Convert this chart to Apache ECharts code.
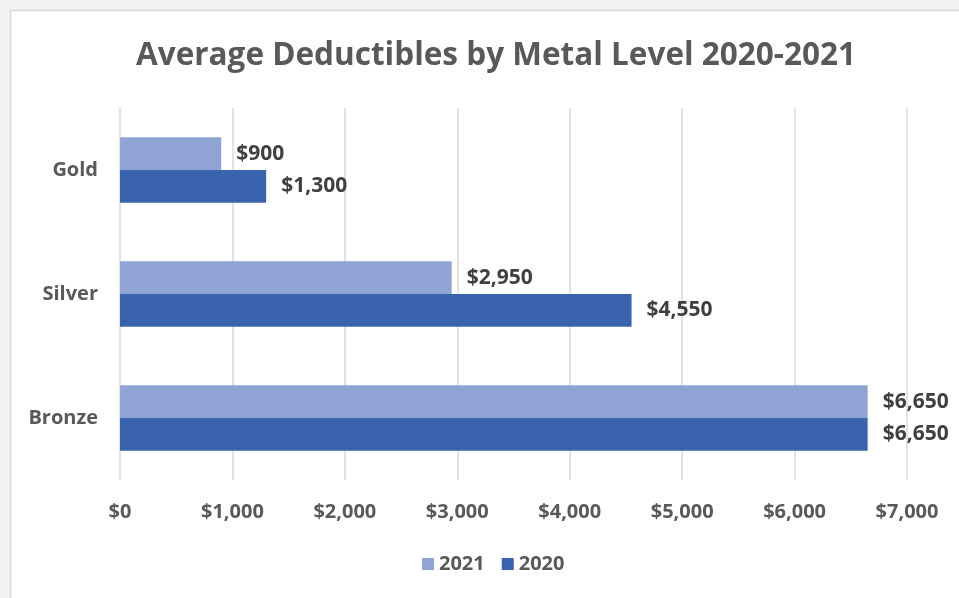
<!DOCTYPE html>
<html>
<head>
<meta charset="UTF-8">
<title>Average Deductibles by Metal Level 2020-2021</title>
<script src="https://cdn.jsdelivr.net/npm/echarts@6/dist/echarts.min.js"></script>
<style>
  html, body { margin: 0; padding: 0; background: #fff; }
  #main { width: 959px; height: 598px; }
</style>
</head>
<body>
<div id="main"></div>
<script type="text/javascript">
// data
var categories = ['Gold', 'Silver', 'Bronze'];
var values2021 = [900, 2950, 6650];
var values2020 = [1300, 4550, 6650];
var seriesNames = ['2021', '2020'];

function money(v) {
  return '$' + Number(v).toLocaleString('en-US');
}

var myChart = echarts.init(document.getElementById('main'));
var font = '"Open Sans", "Liberation Sans", sans-serif';

var option = {
  backgroundColor: '#ffffff',
  textStyle: { fontFamily: font },
  graphic: [
    { type: 'rect', shape: { x: 0, y: 0, width: 959, height: 10 }, style: { fill: '#f2f2f2' }, silent: true },
    { type: 'rect', shape: { x: 0, y: 0, width: 10, height: 598 }, style: { fill: '#f2f2f2' }, silent: true },
    { type: 'rect', shape: { x: 10.5, y: 10.5, width: 960, height: 600 }, style: { fill: 'none', stroke: '#d9d9d9', lineWidth: 1.5 }, silent: true }
  ],
  title: {
    text: 'Average Deductibles by Metal Level 2020-2021',
    left: 491,
    textAlign: 'center',
    top: 35,
    textStyle: { fontFamily: font, fontSize: 31.5, fontWeight: 'bold', color: '#595959' }
  },
  legend: {
    data: seriesNames,
    bottom: 19,
    left: 417,
    itemWidth: 12,
    itemHeight: 12,
    itemGap: 17,
    icon: 'rect',
    textStyle: { fontFamily: font, fontSize: 20, color: '#595959', fontWeight: 'bold' }
  },
  grid: { left: 120, right: 52, top: 108, bottom: 118, containLabel: false },
  xAxis: {
    type: 'value',
    min: 0,
    max: 7000,
    interval: 1000,
    axisLine: { show: false },
    axisTick: { show: false },
    splitLine: { lineStyle: { color: '#d9d9d9', width: 1.5 } },
    axisLabel: {
      margin: 22,
      fontFamily: font,
      fontSize: 20,
      fontWeight: 'bold',
      color: '#595959',
      formatter: money
    }
  },
  yAxis: {
    type: 'category',
    data: categories,
    inverse: true,
    axisLine: { show: false },
    axisTick: { show: false },
    axisLabel: {
      margin: 22,
      fontFamily: font,
      fontSize: 20,
      fontWeight: 'bold',
      color: '#595959'
    }
  },
  series: [
    {
      name: seriesNames[0],
      type: 'bar',
      data: values2021,
      barGap: '0%',
      barCategoryGap: '47%',
      itemStyle: { color: '#8fa3d5' },
      label: {
        show: true, position: 'right', distance: 15,
        fontFamily: font, fontSize: 21, fontWeight: 'bold', color: '#404040',
        formatter: function (p) { return money(p.value); }
      }
    },
    {
      name: seriesNames[1],
      type: 'bar',
      data: values2020,
      barGap: '0%',
      barCategoryGap: '47%',
      itemStyle: { color: '#3a63ae' },
      label: {
        show: true, position: 'right', distance: 15,
        fontFamily: font, fontSize: 21, fontWeight: 'bold', color: '#404040',
        formatter: function (p) { return money(p.value); }
      }
    }
  ]
};
myChart.setOption(option);
</script>
</body>
</html>
